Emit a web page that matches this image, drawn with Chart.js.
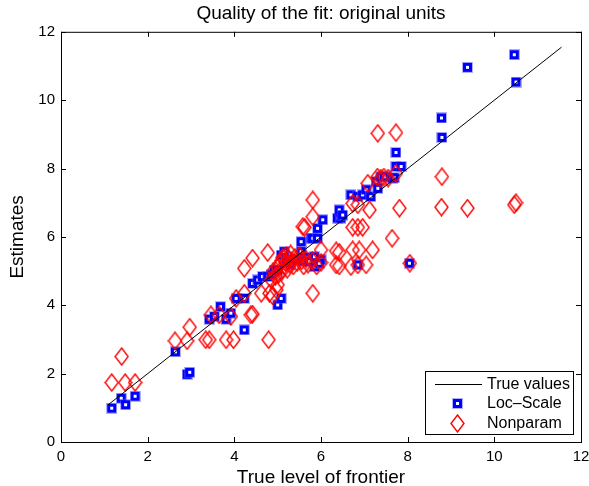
<!DOCTYPE html>
<html>
<head>
<meta charset="utf-8">
<script src="https://cdn.jsdelivr.net/npm/chart.js@4/dist/chart.umd.min.js"></script>
<style>
  html, body { margin: 0; padding: 0; background: #fff; }
  #wrap { width: 589px; height: 486px; }
</style>
</head>
<body>
<div id="wrap"><canvas id="c" width="589" height="486"></canvas></div>
<script>
// Quality of the fit: true frontier vs estimates

const TICKS = [0, 2, 4, 6, 8, 10, 12];

const trueX = [1.08, 11.55];
const trueY = [1.08, 11.55];

const locX = [1.17, 1.39, 1.49, 1.71, 2.64, 2.91, 2.97, 3.42, 3.54, 3.68, 3.81, 3.92,
  4.04, 4.23, 4.23, 4.42, 4.54, 4.65, 4.77, 4.85, 4.92, 5.0, 5.08, 5.15, 5.0, 5.08,
  5.2, 5.3, 5.4, 5.54, 5.54, 5.6, 5.7, 5.77, 5.81, 5.92, 5.85, 6.0, 5.92, 6.04,
  6.38, 6.46, 6.42, 6.5, 6.69, 6.85, 6.96, 7.04, 7.15, 7.27, 7.31, 7.38, 7.46, 7.65,
  7.69, 7.73, 7.85, 7.73, 8.79, 8.78, 9.38, 10.46, 10.5, 6.85, 8.04, 5.73, 5.96, 5.85];
const locY = [0.99, 1.28, 1.09, 1.34, 2.64, 1.98, 2.04, 3.59, 3.67, 3.96, 3.59, 3.77,
  4.20, 4.20, 3.28, 4.64, 4.74, 4.84, 4.84, 4.90, 5.03, 5.03, 5.47, 5.57, 4.01, 4.20,
  5.30, 5.20, 5.35, 5.86, 5.57, 5.30, 5.40, 5.96, 5.96, 5.96, 5.13, 5.33, 6.25, 6.50,
  6.55, 6.55, 6.79, 6.64, 7.23, 7.18, 7.23, 7.38, 7.18, 7.62, 7.42, 7.76, 7.76, 7.72,
  7.73, 8.06, 8.06, 8.47, 8.91, 9.48, 10.96, 11.33, 10.53, 5.18, 5.23, 5.28, 5.23, 5.42];

const npX = [1.17, 1.40, 1.48, 1.71, 2.63, 2.91, 2.97, 3.34, 3.42, 3.81, 3.98, 4.79,
  3.46, 3.65, 3.92, 4.38, 4.42, 4.04, 4.23, 4.23, 4.42, 4.77, 4.62, 4.81, 4.88,
  5.81, 5.81, 5.81, 5.58, 5.62, 6.0, 6.35, 6.42, 6.73, 6.88, 7.19, 6.35, 6.42, 6.69,
  6.85, 7.04, 8.05, 6.73, 6.85, 6.96, 6.73, 6.85, 7.12, 7.08, 7.3, 7.38, 7.45, 7.55,
  7.73, 7.81, 7.64, 7.31, 7.73, 8.79, 8.78, 9.38, 10.46, 10.5,
  4.85, 4.9, 4.95, 5.0, 5.02, 5.05, 5.08, 5.1, 5.12, 5.15, 5.18, 5.2, 5.22, 5.25,
  5.28, 5.3, 5.33, 5.36, 5.4, 5.45, 5.5, 5.55, 5.6, 5.65, 5.7, 5.8, 5.9, 6.0,
  5.0, 4.97];
const npY = [1.74, 2.50, 1.74, 1.74, 2.96, 2.96, 3.36, 2.99, 2.99, 2.99, 2.99, 2.99,
  3.72, 3.72, 3.67, 3.72, 3.74, 4.20, 4.35, 5.08, 5.38, 5.54, 4.35, 4.35, 4.28,
  4.35, 6.59, 7.08, 6.30, 6.28, 5.62, 5.59, 5.55, 5.62, 5.62, 5.62, 5.18, 5.15, 5.13,
  5.18, 5.18, 5.23, 6.28, 6.28, 6.28, 6.98, 6.94, 6.79, 7.57, 7.75, 7.72, 7.75, 7.72,
  7.86, 6.84, 5.96, 9.03, 9.05, 7.76, 6.87, 6.84, 6.94, 7.00,
  4.75, 5.00, 4.85, 5.10, 4.90, 5.20, 5.30, 5.00, 5.40, 5.15, 5.25, 5.45, 5.05, 5.35,
  5.20, 5.50, 5.30, 5.15, 5.40, 5.25, 5.45, 5.30, 5.15, 5.35, 5.20, 5.30, 5.15, 5.25,
  4.60, 4.45];

const FONT = "'Liberation Sans', Arial, Helvetica, sans-serif";

function squareMarker() {
  const cv = document.createElement('canvas');
  cv.width = 11; cv.height = 11;
  const g = cv.getContext('2d');
  g.fillStyle = 'rgba(80,80,255,0.45)';
  g.fillRect(0, 0, 11, 11);
  g.fillStyle = '#0000ff';
  g.fillRect(1, 1, 9, 9);
  g.fillStyle = '#ffffff';
  g.fillRect(4, 4, 3, 3);
  return cv;
}

function diamondMarker() {
  const cv = document.createElement('canvas');
  cv.width = 15; cv.height = 19;
  const g = cv.getContext('2d');
  g.strokeStyle = '#ff0000';
  g.lineWidth = 1.4;
  g.beginPath();
  g.moveTo(7.5, 1);
  g.lineTo(14, 9.5);
  g.lineTo(7.5, 18);
  g.lineTo(1, 9.5);
  g.closePath();
  g.stroke();
  return cv;
}

const SQ = squareMarker();
const DM = diamondMarker();

function pts(xs, ys) {
  return xs.map((x, i) => ({ x, y: ys[i] }));
}

// MATLAB-style frame: box + inward ticks on all four sides, legend inside
const framePlugin = {
  id: 'frame',
  afterDatasetsDraw(chart) {
    const { ctx, chartArea: a, scales } = chart;
    ctx.save();
    ctx.strokeStyle = '#000';
    ctx.lineWidth = 1;
    ctx.strokeRect(a.left + 0.5, a.top + 0.5, a.right - a.left, a.bottom - a.top);
    const tl = 5;
    ctx.beginPath();
    TICKS.forEach((t) => {
      const px = Math.round(scales.x.getPixelForValue(t)) + 0.5;
      ctx.moveTo(px, a.bottom); ctx.lineTo(px, a.bottom - tl);
      ctx.moveTo(px, a.top); ctx.lineTo(px, a.top + tl);
      const py = Math.round(scales.y.getPixelForValue(t)) + 0.5;
      ctx.moveTo(a.left, py); ctx.lineTo(a.left + tl, py);
      ctx.moveTo(a.right, py); ctx.lineTo(a.right - tl, py);
    });
    ctx.stroke();
    ctx.restore();
  },
  afterDraw(chart) {
    const { ctx, chartArea: a } = chart;
    const ds = chart.data.datasets;
    const w = 148, h = 63;
    const x0 = a.right - 8 - w, y0 = a.bottom - 8 - h;
    ctx.save();
    ctx.fillStyle = '#fff';
    ctx.fillRect(x0, y0, w, h);
    ctx.strokeStyle = '#000';
    ctx.lineWidth = 1;
    ctx.strokeRect(x0 + 0.5, y0 + 0.5, w, h);
    ctx.font = '16px ' + FONT;
    ctx.fillStyle = '#000';
    ctx.textBaseline = 'middle';
    const rows = [13, 32, 52];
    const mx = x0 + 32;
    ctx.beginPath();
    ctx.moveTo(x0 + 10, y0 + rows[0] + 0.5);
    ctx.lineTo(x0 + 57, y0 + rows[0] + 0.5);
    ctx.stroke();
    ctx.drawImage(SQ, mx - 5, y0 + rows[1] - 5);
    ctx.drawImage(DM, mx - 7, y0 + rows[2] - 9);
    ds.forEach((d, i) => {
      ctx.fillText(d.label, x0 + 62, y0 + rows[i] + 1);
    });
    ctx.restore();
  }
};

new Chart(document.getElementById('c'), {
  type: 'scatter',
  data: {
    datasets: [
      {
        label: 'True values',
        data: pts(trueX, trueY),
        showLine: true,
        borderColor: '#000',
        borderWidth: 1,
        pointRadius: 0,
        fill: false,
        order: 0,
      },
      {
        label: 'Loc\u2013Scale',
        data: pts(locX, locY),
        pointStyle: SQ,
        pointRadius: 5,
        order: 2,
      },
      {
        label: 'Nonparam',
        data: pts(npX, npY),
        pointStyle: DM,
        pointRadius: 7,
        order: 1,
      },
    ],
  },
  options: {
    responsive: false,
    animation: false,
    layout: { padding: { right: 8, left: 0, bottom: 0, top: 0 } },
    plugins: {
      legend: { display: false },
      tooltip: { enabled: false },
      title: {
        display: true,
        fullSize: false,
        text: 'Quality of the fit: original units',
        color: '#000',
        font: { family: FONT, size: 19, weight: 'normal' },
        padding: { top: 2, bottom: 7 },
      },
    },
    scales: {
      x: {
        type: 'linear',
        min: 0, max: 12,
        grid: { display: false, drawTicks: false },
        border: { display: false },
        ticks: {
          stepSize: 2, color: '#000', padding: 6,
          font: { family: FONT, size: 15 },
        },
        title: {
          display: true, text: 'True level of frontier', color: '#000',
          font: { family: FONT, size: 19 }, padding: { top: 0, bottom: -3 },
        },
        afterFit(s) {
          s.height = 44;
          s.paddingLeft = 0;
          s.paddingRight = 0;
        },
      },
      y: {
        type: 'linear',
        min: 0, max: 12,
        grid: { display: false, drawTicks: false },
        border: { display: false },
        ticks: {
          stepSize: 2, color: '#000', padding: 6,
          font: { family: FONT, size: 15 },
        },
        title: {
          display: true, text: 'Estimates', color: '#000',
          font: { family: FONT, size: 19 }, padding: { top: 6, bottom: 0 },
        },
        afterFit(s) {
          s.width = 61;
          s.paddingTop = 0;
          s.paddingBottom = 0;
        },
      },
    },
  },
  plugins: [framePlugin],
});
</script>
</body>
</html>
